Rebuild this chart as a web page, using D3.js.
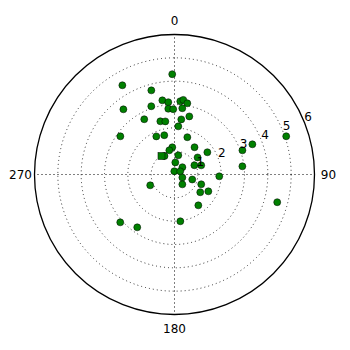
<!DOCTYPE html>
<html><head><meta charset="utf-8">
<script src="https://cdn.jsdelivr.net/npm/d3@7"></script>
<style>html,body{margin:0;padding:0;background:#fff}</style>
</head><body>
<svg id="chart" width="350" height="350"></svg>
<script>
// angle in degrees (clockwise from north), radius
const thetaDeg = [358.7,329.7,344.6,350.7,355.1,4.5,6.7,10.2,321.9,341.2,354.6,358.9,6.7,14.3,331.3,345.1,350.2,7.0,4.5,305.2,334.5,345.4,19.0,355.4,347.9,36.3,55.9,331.6,11.2,53.5,3.8,65.1,71.1,47.3,356.5,61.1,111.0,105.7,92.3,70.4,68.8,71.1,83.1,105.1,246.0,141.5,110.1,124.6,116.4,142.3,228.6,215.2,172.9];
const radius = [4.30,4.43,3.74,3.22,3.11,3.15,3.22,3.10,3.55,3.09,2.83,2.80,2.86,2.57,2.70,2.36,2.31,2.38,2.07,2.84,1.81,1.74,1.69,1.17,1.06,1.45,1.70,0.90,0.84,1.23,0.52,0.94,1.21,0.46,0.14,0.28,0.36,0.79,1.92,3.09,3.58,5.06,2.93,4.56,1.14,0.54,1.22,1.34,1.62,1.67,3.10,2.77,2.02];
const squareTheta = [324.9];
const squareR = [0.97];
const rTicks = [1,2,3,4,5,6];
const thetaTicks = [0,90,180,270];

const svg = d3.select("#chart");
svg.append("rect").attr("width",350).attr("height",350).attr("fill","#fff");
const cx = 174.5, cy = 174.5, R = 140;
const r = d3.scaleLinear().domain([0,6]).range([0,R]);
const a = d3.scaleLinear().domain([0,360]).range([0,2*Math.PI]);
const px = (t,v) => cx + r(v)*Math.sin(a(t));
const py = (t,v) => cy - r(v)*Math.cos(a(t));
const g = svg.append("g");

// rings
g.selectAll("circle.ring").data(rTicks.slice(0,-1)).join("circle")
  .attr("cx",cx).attr("cy",cy).attr("r",d=>r(d))
  .attr("fill","none").attr("stroke","#000").attr("stroke-width",0.8)
  .attr("stroke-dasharray","1,3");
// spokes
g.selectAll("line.spoke").data(thetaTicks).join("line")
  .attr("x1",cx).attr("y1",cy)
  .attr("x2",d=>px(d,6)).attr("y2",d=>py(d,6))
  .attr("stroke","#000").attr("stroke-width",1).attr("stroke-dasharray","1,3");
// outer
g.append("circle").attr("cx",cx).attr("cy",cy).attr("r",R)
  .attr("fill","none").attr("stroke","#000").attr("stroke-width",1.3);

// points
const pts = thetaDeg.map((t,i)=>({t, v: radius[i]}));
g.selectAll("circle.pt").data(pts).join("circle")
  .attr("cx",d=>px(d.t,d.v)).attr("cy",d=>py(d.t,d.v)).attr("r",3.5)
  .attr("fill","#008000").attr("stroke","#000").attr("stroke-width",0.5);
const sq = squareTheta.map((t,i)=>({t, v: squareR[i]}));
g.selectAll("rect.sq").data(sq).join("rect")
  .attr("x",d=>px(d.t,d.v)-3.5).attr("y",d=>py(d.t,d.v)-3.5)
  .attr("width",7).attr("height",7)
  .attr("fill","#008000").attr("stroke","#000").attr("stroke-width",0.5);

// radial labels
g.selectAll("text.rl").data(rTicks).join("text")
  .attr("x",d=>px(67.5,d)+0.5).attr("y",d=>py(67.5,d))
  .attr("font-family","DejaVu Sans").attr("font-size",12)
  .attr("fill","#000").text(d=>d);
// angle labels
g.selectAll("text.al").data(thetaTicks).join("text")
  .attr("x",d=>cx + (R*1.1)*Math.sin(a(d)))
  .attr("y",d=>cy - (R*1.1)*Math.cos(a(d)))
  .attr("text-anchor","middle").attr("dominant-baseline","central")
  .attr("font-family","DejaVu Sans").attr("font-size",12)
  .attr("fill","#000").text(d=>d);
</script>
</body></html>
